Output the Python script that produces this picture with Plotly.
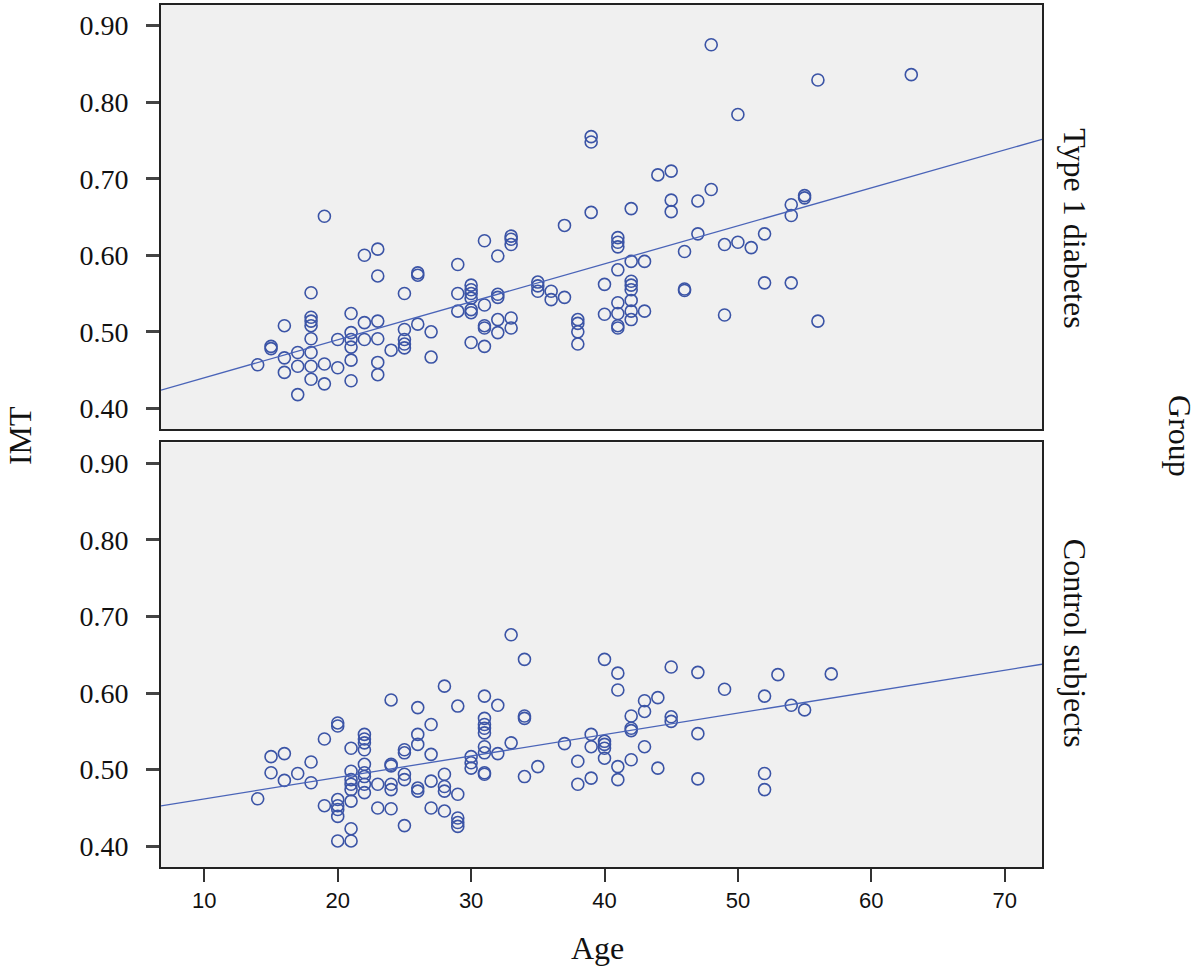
import numpy as np
import plotly.graph_objects as go
from plotly.subplots import make_subplots

# ---- Data ----
T1_AGE = [14, 15, 15, 16, 16, 16, 17, 17, 17,
          18, 18, 18, 18, 18, 18, 18, 18,
          19, 19, 19, 20, 20,
          21, 21, 21, 21, 21, 21,
          22, 22, 22,
          23, 23, 23, 23, 23, 23,
          24,
          25, 25, 25, 25, 25,
          26, 26, 26, 27, 27,
          29, 29, 29,
          30, 30, 30, 30, 30, 30, 30,
          31, 31, 31, 31, 31,
          32, 32, 32, 32, 32,
          33, 33, 33, 33, 33,
          35, 35, 35, 36, 36, 37, 37,
          38, 38, 38, 38,
          39, 39, 39, 40, 40,
          41, 41, 41, 41, 41, 41, 41, 41,
          42, 42, 42, 42, 42, 42, 42, 42,
          43, 43, 44, 45, 45, 45,
          46, 46, 46, 47, 47, 48, 48,
          49, 49, 50, 50, 51, 52, 52,
          54, 54, 54, 55, 55, 56, 56, 63]
T1_IMT = [0.457, 0.481, 0.478, 0.508, 0.466, 0.447, 0.473, 0.455, 0.418,
          0.551, 0.519, 0.514, 0.508, 0.491, 0.473, 0.455, 0.438,
          0.651, 0.458, 0.432, 0.490, 0.453,
          0.524, 0.499, 0.490, 0.480, 0.463, 0.436,
          0.600, 0.512, 0.490,
          0.608, 0.573, 0.514, 0.491, 0.460, 0.444,
          0.476,
          0.550, 0.503, 0.490, 0.484, 0.479,
          0.577, 0.574, 0.510, 0.500, 0.467,
          0.588, 0.550, 0.527,
          0.561, 0.555, 0.550, 0.544, 0.529, 0.525, 0.486,
          0.619, 0.535, 0.508, 0.505, 0.481,
          0.599, 0.549, 0.545, 0.516, 0.499,
          0.625, 0.621, 0.614, 0.518, 0.505,
          0.565, 0.560, 0.553, 0.553, 0.542, 0.639, 0.545,
          0.516, 0.511, 0.500, 0.484,
          0.755, 0.748, 0.656, 0.562, 0.523,
          0.623, 0.617, 0.611, 0.581, 0.538, 0.524, 0.508, 0.505,
          0.661, 0.592, 0.566, 0.561, 0.555, 0.541, 0.527, 0.516,
          0.592, 0.527, 0.705, 0.710, 0.672, 0.657,
          0.605, 0.556, 0.554, 0.671, 0.628, 0.875, 0.686,
          0.614, 0.522, 0.784, 0.617, 0.610, 0.628, 0.564,
          0.666, 0.652, 0.564, 0.678, 0.675, 0.829, 0.514, 0.836]

CTRL_AGE = [14, 15, 15, 16, 16, 17, 18, 18, 19, 19,
            20, 20, 20, 20, 20, 20, 20,
            21, 21, 21, 21, 21, 21, 21, 21,
            22, 22, 22, 22, 22, 22, 22, 22, 22,
            23, 23,
            24, 24, 24, 24, 24, 24,
            25, 25, 25, 25, 25,
            26, 26, 26, 26, 26,
            27, 27, 27, 27,
            28, 28, 28, 28, 28,
            29, 29, 29, 29, 29,
            30, 30, 30,
            31, 31, 31, 31, 31, 31, 31, 31, 31,
            32, 32, 33, 33,
            34, 34, 34, 34, 35, 37, 38, 38,
            39, 39, 39,
            40, 40, 40, 40, 40,
            41, 41, 41, 41,
            42, 42, 42, 42,
            43, 43, 43, 44, 44,
            45, 45, 45, 47, 47, 47, 49,
            52, 52, 52, 53, 54, 55, 57]
CTRL_IMT = [0.462, 0.517, 0.496, 0.521, 0.486, 0.495, 0.510, 0.483, 0.540, 0.453,
            0.561, 0.557, 0.461, 0.453, 0.448, 0.439, 0.407,
            0.528, 0.498, 0.487, 0.481, 0.474, 0.459, 0.423, 0.407,
            0.546, 0.540, 0.535, 0.526, 0.507, 0.496, 0.491, 0.481, 0.470,
            0.481, 0.450,
            0.591, 0.507, 0.505, 0.481, 0.474, 0.449,
            0.526, 0.522, 0.494, 0.487, 0.427,
            0.581, 0.546, 0.533, 0.476, 0.472,
            0.559, 0.520, 0.485, 0.450,
            0.609, 0.494, 0.478, 0.472, 0.446,
            0.583, 0.468, 0.437, 0.431, 0.426,
            0.517, 0.509, 0.502,
            0.596, 0.567, 0.559, 0.554, 0.548, 0.530, 0.522, 0.496, 0.494,
            0.584, 0.521, 0.676, 0.535,
            0.644, 0.570, 0.567, 0.491, 0.504, 0.534, 0.511, 0.481,
            0.546, 0.530, 0.489,
            0.644, 0.537, 0.533, 0.528, 0.515,
            0.626, 0.604, 0.504, 0.487,
            0.570, 0.554, 0.551, 0.513,
            0.590, 0.576, 0.530, 0.594, 0.502,
            0.634, 0.569, 0.563, 0.627, 0.547, 0.488, 0.605,
            0.596, 0.495, 0.474, 0.624, 0.584, 0.578, 0.625]

GROUPS = ["Type 1 diabetes", "Control subjects"]
X_TICKS = [10, 20, 30, 40, 50, 60, 70]
Y_TICKS = [0.40, 0.50, 0.60, 0.70, 0.80, 0.90]

# ---- Styling ----
X_RANGE = [6.75, 72.8]
Y_RANGE = [0.373, 0.927]
MARK_COL = "#3b54a6"
LINE_COL = "#4a64b8"
BG = "#f0f0f0"
SERIF = "Liberation Serif, Times New Roman, serif"
SANS = "Liberation Sans, Arial, sans-serif"

fig = make_subplots(rows=2, cols=1, shared_xaxes=True, vertical_spacing=0.0)

for row, (ages, imts) in enumerate([(T1_AGE, T1_IMT), (CTRL_AGE, CTRL_IMT)], start=1):
    fig.add_trace(go.Scatter(
        x=ages, y=imts, mode="markers",
        marker=dict(symbol="circle-open", size=12, color=MARK_COL,
                    line=dict(width=1.6, color=MARK_COL)),
        showlegend=False, hoverinfo="x+y"), row=row, col=1)
    slope, intercept = np.polyfit(np.array(ages, float), np.array(imts, float), 1)
    xs = np.array(X_RANGE)
    fig.add_trace(go.Scatter(
        x=xs, y=intercept + slope * xs, mode="lines",
        line=dict(color=LINE_COL, width=1.3),
        showlegend=False, hoverinfo="skip"), row=row, col=1)

axis_common = dict(showgrid=False, zeroline=False, showline=True, mirror=True,
                   linecolor="#222222", linewidth=1.6)
ytick_common = dict(range=Y_RANGE, tickvals=Y_TICKS,
                    ticktext=["%.2f" % v for v in Y_TICKS], ticks="outside",
                    ticklen=13, tickwidth=2.5, tickcolor="#444444",
                    ticklabelstandoff=12,
                    tickfont=dict(family=SERIF, size=28, color="#111111"))

fig.update_layout(
    width=1200, height=968,
    margin=dict(l=161, r=158, t=3, b=101),
    paper_bgcolor="white", plot_bgcolor=BG,
    xaxis=dict(domain=[0, 1], range=X_RANGE, tickvals=X_TICKS, ticks="",
               showticklabels=False, anchor="y", **axis_common),
    xaxis2=dict(domain=[0, 1], range=X_RANGE, tickvals=X_TICKS,
                ticktext=[str(v) for v in X_TICKS], ticks="outside",
                ticklen=13, tickwidth=2, tickcolor="#333333",
                tickfont=dict(family=SANS, size=22, color="#111111"),
                anchor="y2", **axis_common),
    yaxis=dict(domain=[0.5081, 1.0], anchor="x", **ytick_common, **axis_common),
    yaxis2=dict(domain=[0.0, 0.4925], anchor="x2", **ytick_common, **axis_common),
)

ann_font = dict(family=SERIF, size=32, color="#111111")
fig.add_annotation(text="IMT", xref="paper", yref="paper", x=-0.160, y=0.5,
                   textangle=-90, showarrow=False, font=ann_font,
                   xanchor="center", yanchor="middle")
fig.add_annotation(text="Age", xref="paper", yref="paper", x=0.495, y=-0.094,
                   showarrow=False, font=ann_font, xanchor="center", yanchor="middle")
fig.add_annotation(text=GROUPS[0], xref="paper", yref="paper", x=1.0375, y=0.741,
                   textangle=90, showarrow=False, font=ann_font,
                   xanchor="center", yanchor="middle")
fig.add_annotation(text=GROUPS[1], xref="paper", yref="paper", x=1.0375, y=0.260,
                   textangle=90, showarrow=False, font=ann_font,
                   xanchor="center", yanchor="middle")
fig.add_annotation(text="Group", xref="paper", yref="paper", x=1.1566, y=0.5,
                   textangle=90, showarrow=False, font=ann_font,
                   xanchor="center", yanchor="middle")

fig.write_html("out.html",
               config={"displayModeBar": False},
               post_script="document.body.style.margin='0';document.body.style.padding='0';"
                           "document.body.style.overflow='hidden';")
